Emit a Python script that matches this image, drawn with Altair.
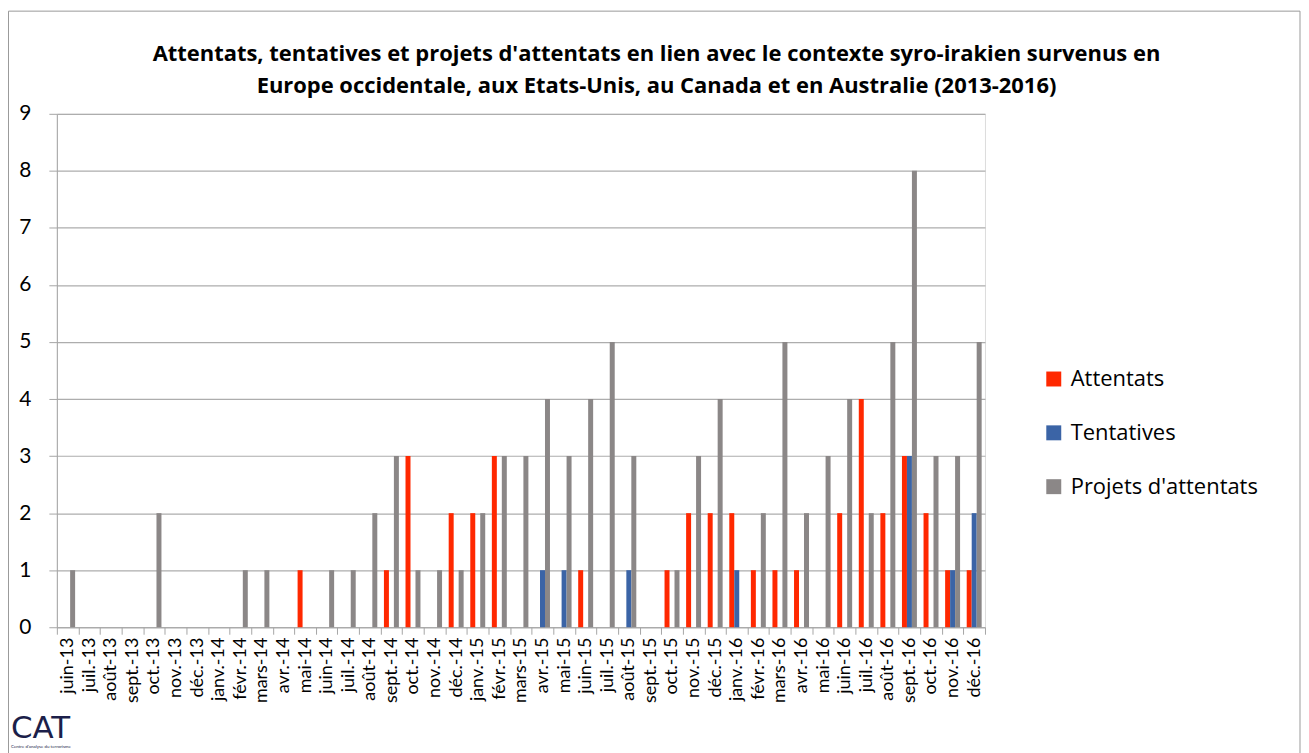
import altair as alt
import pandas as pd

months = ["juin-13", "juil.-13", "août-13", "sept.-13", "oct.-13", "nov.-13", "déc.-13",
          "janv.-14", "févr.-14", "mars-14", "avr.-14", "mai-14", "juin-14", "juil.-14",
          "août-14", "sept.-14", "oct.-14", "nov.-14", "déc.-14",
          "janv.-15", "févr.-15", "mars-15", "avr.-15", "mai-15", "juin-15", "juil.-15",
          "août-15", "sept.-15", "oct.-15", "nov.-15", "déc.-15",
          "janv.-16", "févr.-16", "mars-16", "avr.-16", "mai-16", "juin-16", "juil.-16",
          "août-16", "sept.-16", "oct.-16", "nov.-16", "déc.-16"]

attentats = [0, 0, 0, 0, 0, 0, 0,
             0, 0, 0, 0, 1, 0, 0, 0, 1, 3, 0, 2,
             2, 3, 0, 0, 0, 1, 0, 0, 0, 1, 2, 2,
             2, 1, 1, 1, 0, 2, 4, 2, 3, 2, 1, 1]
tentatives = [0, 0, 0, 0, 0, 0, 0,
              0, 0, 0, 0, 0, 0, 0, 0, 0, 0, 0, 0,
              0, 0, 0, 1, 1, 0, 0, 1, 0, 0, 0, 0,
              1, 0, 0, 0, 0, 0, 0, 0, 3, 0, 1, 2]
projets = [1, 0, 0, 0, 2, 0, 0,
           0, 1, 1, 0, 0, 1, 1, 2, 3, 1, 1, 1,
           2, 3, 3, 4, 3, 4, 5, 3, 0, 1, 3, 4,
           0, 2, 5, 2, 3, 4, 2, 5, 8, 3, 3, 5]

series = ["Attentats", "Tentatives", "Projets d'attentats"]
colors = ["#FF2800", "#3B64A6", "#8B8787"]

title_lines = ["Attentats, tentatives et projets d'attentats en lien avec le contexte syro-irakien survenus en",
               "Europe occidentale, aux Etats-Unis, au Canada et en Australie (2013-2016)"]

rows = []
for name, vals in zip(series, [attentats, tentatives, projets]):
    for m, v in zip(months, vals):
        rows.append({"mois": m, "serie": name, "valeur": v})
df = pd.DataFrame(rows)

FONT = "Lato"
FONT2 = "Open Sans"

bars = alt.Chart(df).mark_bar().encode(
    x=alt.X("mois:N", sort=months, title=None,
            scale=alt.Scale(paddingInner=0, paddingOuter=0),
            axis=alt.Axis(labelAngle=-90, labelFontSize=18, labelFont=FONT, labelColor="#000000",
                          labelPadding=3, tickBand="extent", tickSize=7, tickColor="#A6A6A6",
                          domainColor="#A6A6A6", grid=False)),
    xOffset=alt.XOffset("serie:N", sort=series,
                        scale=alt.Scale(paddingInner=0, paddingOuter=0.665)),
    y=alt.Y("valeur:Q", title=None,
            scale=alt.Scale(domain=[0, 9], nice=False),
            axis=alt.Axis(values=list(range(10)), labelFontSize=21, labelFont=FONT,
                          labelColor="#000000", labelPadding=18, tickSize=8,
                          tickColor="#A6A6A6", domainColor="#A6A6A6",
                          grid=True, gridColor="#ADADAD", gridWidth=1.2)),
    color=alt.Color("serie:N", sort=series,
                    scale=alt.Scale(domain=series, range=colors),
                    title=None,
                    legend=alt.Legend(orient="none", legendX=989, legendY=255,
                                      symbolType="square", symbolSize=225, symbolStrokeWidth=0,
                                      labelFontSize=22, labelFont=FONT2, labelColor="#000000",
                                      labelOffset=6, labelLimit=400, rowPadding=32, padding=0)),
)

frame = alt.Chart(pd.DataFrame({"k": [0]})).mark_rect(
    fill="transparent", stroke="#9A9A9A", strokeWidth=1
).encode(x=alt.value(-48.5), x2=alt.value(1247), y=alt.value(-103), y2=alt.value(700))

logo = alt.Chart(pd.DataFrame({"t": ["CAT"]})).mark_text(
    font="DejaVu Sans", fontSize=31, color="#1C1F4A", align="left", baseline="alphabetic"
).encode(text="t:N", x=alt.value(-46), y=alt.value(626))

logo_sub = alt.Chart(pd.DataFrame({"t": ["Centre d'analyse du terrorisme"]})).mark_text(
    font=FONT, fontSize=4.5, color="#1C1F4A", align="left", baseline="alphabetic"
).encode(text="t:N", x=alt.value(-46), y=alt.value(636))

chart = alt.layer(bars, frame, logo, logo_sub).properties(
    width=931, height=515,
    title=alt.TitleParams(title_lines, fontSize=22, font=FONT2, fontWeight="bold",
                          anchor="middle", offset=0, dx=136, dy=88, lineHeight=32, color="#000000"),
    autosize=alt.AutoSizeParams(type="none"),
    padding={"left": 49, "top": 105, "right": 317, "bottom": 125},
).configure_view(stroke="transparent").configure(background="#FFFFFF")

chart.save("out.html", embed_options={"renderer": "svg", "actions": False})
